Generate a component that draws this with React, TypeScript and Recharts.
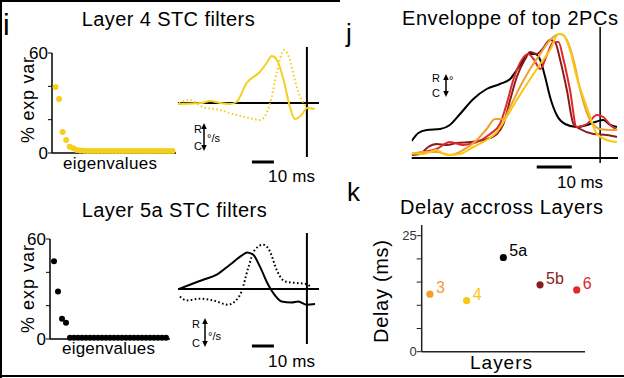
import React from "react";
import { ScatterChart, Scatter, XAxis, YAxis, LineChart, Line, ReferenceLine, Cell } from "recharts";

const FONT = '"Liberation Sans", Arial, Helvetica, sans-serif';

const L4_YELLOW = "#F5CF1E";
const YELLOW = "#F7C812";
const ORANGE = "#F0A033";
const DARK_RED = "#8C1C1C";
const RED = "#E0282C";

// i: % explained variance per eigenvalue
const l4Variance = [
  39.6, 32.4, 12.6, 7.8, 3.8, 2.8, 1.8, 1.5, 1.3, 1.2, 1.2, 1.2, 1.2, 1.2, 1.2, 1.2, 1.2,
  1.2, 1.2, 1.2, 1.2, 1.2, 1.2, 1.2, 1.2, 1.2, 1.2, 1.2, 1.2, 1.2, 1.2, 1.2, 1.2, 1.2,
];
const l5aVariance = [
  46.7, 28.5, 12.1, 9.7, 0.8, 0.8, 0.8, 0.8, 0.8, 0.8, 0.8, 0.8, 0.8, 0.8, 0.8, 0.8, 0.8,
  0.8, 0.8, 0.8, 0.8, 0.8, 0.8, 0.8, 0.8, 0.8, 0.8, 0.8, 0.8,
];

// i: STC filters, [time ms relative to spike, amplitude]
const l4Solid = [
  [-58.6, -0.1], [-47.9, 0.0], [-44.1, 0.2], [-39.5, 0.0], [-35, -0.1], [-32, 0.1],
  [-27.4, 2.0], [-21.4, 3.1], [-18.3, 4.0], [-16, 4.7], [-13.6, 4.3], [-10.6, 2.3],
  [-7.7, -0.4], [-5.5, -1.6], [-2.4, -1.2], [0.1, -0.5], [3.6, -0.6],
];
const l4Dotted = [
  [-58.2, 0.0], [-53.2, 0.3], [-47.3, -0.4], [-39.5, -0.7], [-32, -1.2], [-25.9, -1.5],
  [-21.4, -1.7], [-18.3, -1.0], [-16, 0.6], [-13.8, 3.0], [-10.3, 5.3], [-7.7, 4.3],
  [-5.5, 2.3], [-2.4, 0.3], [0.6, -0.4],
];
const l5aSolid = [
  [-58.2, 0.0], [-53.2, 0.43], [-47.1, 0.93], [-41, 1.43], [-35, 2.43], [-29.7, 3.33],
  [-27.1, 3.66], [-24.4, 3.43], [-21.4, 2.26], [-17.6, 0.43], [-15.3, -0.4], [-11.5, -1.24],
  [-7, -1.34], [-3.9, -1.24], [-0.1, -1.57], [3.7, -1.5],
];
const l5aDotted = [
  [-57.7, -0.74], [-54.7, -1.14], [-48.6, -0.97], [-42.6, -1.14], [-35.8, -1.57],
  [-32.7, -1.24], [-29.7, -0.24], [-26.7, 2.1], [-23.6, 3.93], [-19.9, 4.43], [-16.8, 3.76],
  [-13.8, 1.93], [-10, 0.76], [-4.7, 0.6], [-0.1, 0.5], [1.4, 0.26],
];

// j: envelope of top 2 PCs per layer
const envL5a = [
  [-53.8, 1.7], [-51.9, 2.5], [-49.5, 2.8], [-45.7, 2.9], [-42.9, 3.3], [-40, 4.4],
  [-36.2, 5.9], [-32.4, 6.9], [-28.6, 7.4], [-25.7, 7.9], [-23.8, 8.8], [-21.9, 9.8],
  [-20.5, 10.4], [-18.6, 10.4], [-17.1, 9.8], [-15.7, 8.1], [-14.3, 6.1], [-12.4, 4.3],
  [-10, 3.4], [-6.7, 3.1], [-3.8, 3.3], [-1.4, 3.6], [0.9, 3.8], [2.9, 3.3], [4.8, 3.1],
];
const envL5b = [
  [-53.8, 0.3], [-51.4, 0.4], [-49.1, 1.1], [-46.7, 1.4], [-43.8, 1.3], [-41, 1.5],
  [-37.1, 1.6], [-33.3, 1.8], [-29.5, 2.4], [-27.6, 3.4], [-25.7, 5.8], [-23.8, 8.1],
  [-21.4, 9.9], [-20, 10.6], [-18.1, 10.4], [-16.7, 10.8], [-14.3, 11.8], [-12.9, 11.6],
  [-11.4, 9.8], [-9.5, 6.8], [-7.6, 3.4], [-5.7, 2.9], [-1.9, 2.4], [1.9, 2.3], [4.8, 2.1],
];
const envL6 = [
  [-53.8, 0.4], [-50.5, 0.6], [-46.7, 0.9], [-42.9, 1.6], [-39.1, 1.3], [-35.2, 1.6],
  [-31.4, 2.4], [-28.6, 3.4], [-26.7, 5.4], [-24.8, 7.8], [-22.4, 9.8], [-20.5, 10.4],
  [-19, 9.9], [-17.1, 8.9], [-15.2, 10.3], [-13.3, 11.6], [-11.9, 11.6], [-10.5, 9.9],
  [-8.6, 6.8], [-6.7, 3.1], [-3.8, 3.4], [-0.9, 4.3], [0.9, 4.1], [2.9, 3.3], [4.8, 2.8],
];
const envL3 = [
  [-53.8, 0.4], [-50.5, 0.6], [-46.7, 0.6], [-42.9, 0.3], [-39.1, 0.8], [-35.2, 1.8],
  [-32.4, 2.9], [-30, 3.9], [-27.6, 3.9], [-25.7, 5.1], [-22.9, 7.1], [-20, 8.9],
  [-17.1, 10.4], [-14.3, 11.8], [-11.4, 12.4], [-9.5, 11.8], [-7.6, 9.8], [-5.7, 6.8],
  [-3.3, 4.1], [0, 2.9], [2.9, 2.8], [4.8, 2.8],
];
const envL4 = [
  [-53.8, 0.5], [-50.5, 0.4], [-46.7, 0.8], [-43.8, 0.3], [-40, 0.4], [-36.2, 1.1],
  [-32.4, 1.8], [-29.5, 2.6], [-26.7, 4.1], [-23.8, 5.8], [-20.9, 7.4], [-17.1, 9.4],
  [-14.3, 10.8], [-11.9, 12.4], [-10.5, 12.3], [-8.6, 10.8], [-6.7, 8.1], [-3.8, 5.1],
  [-0.9, 2.4], [1.9, 1.8], [4.8, 1.6],
];

// k: delay across layers
const layerNames = ["3", "4", "5a", "5b", "6"];
const layerDelays = [12.4, 11.0, 20.3, 14.4, 13.3];
const layerColors = [ORANGE, YELLOW, "#000", DARK_RED, RED];

const toPoints = (pairs: number[][]) => pairs.map(([t, a]) => ({ t, a }));

function EigenPanel({ top, axisX, plotW, values, color }: { top: number; axisX: number; plotW: number; values: number[]; color: string }) {
  const data = values.map((v, i) => ({ rank: i + 1, v }));
  return (
    <div style={{ position: "absolute", left: 0, top }}>
      <ScatterChart width={axisX + plotW + 14} height={125} margin={{ top: 13, right: 14, left: axisX - 40, bottom: 0 }}>
        <XAxis type="number" dataKey="rank" domain={[0, values.length + 1]} tick={false} tickLine={false} height={12} axisLine={{ stroke: "#000", strokeWidth: 1.5 }} />
        <YAxis
          type="number"
          dataKey="v"
          domain={[0, 60]}
          ticks={[0, 20, 40, 60]}
          width={40}
          tickSize={4}
          tickMargin={0}
          tickFormatter={(v: number) => (v === 0 || v === 60 ? String(v) : "")}
          tick={{ fontSize: 17, fill: "#000", fontFamily: FONT }}
          axisLine={{ stroke: "#000", strokeWidth: 1.5 }}
          tickLine={{ stroke: "#000" }}
        />
        <Scatter
          data={data}
          isAnimationActive={false}
          shape={(p: any) => <circle cx={p.cx} cy={p.cy} r={3} fill={color} />}
        />
      </ScatterChart>
    </div>
  );
}

function FilterPanel({ top, solid, dotted, color, vTop, vBottom, barY }: any) {
  return (
    <div style={{ position: "absolute", left: 170, top }}>
      <LineChart width={160} height={145} margin={{ top: 7, right: 11, left: 8, bottom: 7 }}>
        <XAxis type="number" dataKey="t" domain={[-58.6, 5.5]} allowDataOverflow hide />
        <YAxis type="number" dataKey="a" domain={[-7.5, 5.6]} allowDataOverflow hide />
        <ReferenceLine segment={[{ x: -58.6, y: 0 }, { x: 5.5, y: 0 }]} stroke="#000" strokeWidth={2} />
        <ReferenceLine segment={[{ x: 0, y: vTop }, { x: 0, y: vBottom }]} stroke="#000" strokeWidth={2} />
        <ReferenceLine segment={[{ x: -25, y: barY }, { x: -15, y: barY }]} stroke="#000" strokeWidth={3} />
        <Line data={toPoints(dotted)} dataKey="a" type="monotone" stroke={color} strokeWidth={2} strokeDasharray="1.6 2.4" dot={false} isAnimationActive={false} />
        <Line data={toPoints(solid)} dataKey="a" type="monotone" stroke={color} strokeWidth={2} dot={false} isAnimationActive={false} />
      </LineChart>
    </div>
  );
}

function EnvelopePanel() {
  const series = [
    { d: envL5a, c: "#000" },
    { d: envL5b, c: DARK_RED },
    { d: envL6, c: RED },
    { d: envL3, c: ORANGE },
    { d: envL4, c: YELLOW },
  ];
  return (
    <div style={{ position: "absolute", left: 404, top: 20 }}>
      <LineChart width={220} height={160} margin={{ top: 7, right: 6, left: 7.7, bottom: 7 }}>
        <XAxis type="number" dataKey="t" domain={[-53.8, 5.1]} allowDataOverflow hide />
        <YAxis type="number" dataKey="a" domain={[-1.5, 13.1]} allowDataOverflow hide />
        <ReferenceLine segment={[{ x: -53.8, y: 0 }, { x: 5.1, y: 0 }]} stroke="#000" strokeWidth={2} />
        <ReferenceLine segment={[{ x: 0, y: 13.1 }, { x: 0, y: -0.5 }]} stroke="#000" strokeWidth={1.5} />
        <ReferenceLine segment={[{ x: -18.1, y: -0.9 }, { x: -8.1, y: -0.9 }]} stroke="#000" strokeWidth={3} />
        {series.map((s, i) => (
          <Line key={i} data={toPoints(s.d)} dataKey="a" type="monotone" stroke={s.c} strokeWidth={2} dot={false} isAnimationActive={false} />
        ))}
      </LineChart>
    </div>
  );
}

function DelayPanel() {
  const data = layerNames.map((name, i) => ({ pos: i + 1, delay: layerDelays[i], name }));
  return (
    <div style={{ position: "absolute", left: 360, top: 215 }}>
      <ScatterChart width={235} height={150} margin={{ top: 10, right: 10, left: 21.7, bottom: 3.3 }}>
        <XAxis type="number" dataKey="pos" domain={[0.775, 5.225]} tick={false} tickLine={false} height={10} axisLine={{ stroke: "#222", strokeWidth: 1.5 }} />
        <YAxis
          type="number"
          dataKey="delay"
          domain={[0, 27.3]}
          ticks={[0, 5, 10, 15, 20, 25]}
          width={40}
          tickSize={5}
          tickMargin={0}
          tickFormatter={(v: number) => (v === 0 || v === 25 ? String(v) : "")}
          tick={{ fontSize: 13, fill: "#333", fontFamily: FONT }}
          axisLine={{ stroke: "#222", strokeWidth: 1.5 }}
          tickLine={{ stroke: "#222" }}
        />
        <Scatter
          data={data}
          isAnimationActive={false}
          shape={(p: any) => {
            const c = layerColors[p.payload.pos - 1];
            return (
              <g>
                <circle cx={p.cx} cy={p.cy} r={3.6} fill={c} />
                <text x={p.cx + 6} y={p.cy - 1} fontSize={16} fill={c} fontFamily={FONT}>
                  {p.payload.name}
                </text>
              </g>
            );
          }}
        >
          {data.map((d, i) => (
            <Cell key={i} fill={layerColors[i]} />
          ))}
        </Scatter>
      </ScatterChart>
    </div>
  );
}

function RateArrow({ x, y1, y2, rx, ry, cy, ux, uy, unit, size }: any) {
  return (
    <g>
      <line x1={x} y1={y1 + 4} x2={x} y2={y2 - 4} stroke="#000" strokeWidth={1.5} />
      <polygon points={`${x},${y1} ${x - 2.8},${y1 + 6} ${x + 2.8},${y1 + 6}`} fill="#000" />
      <polygon points={`${x},${y2} ${x - 2.8},${y2 - 6} ${x + 2.8},${y2 - 6}`} fill="#000" />
      <text x={rx} y={ry} fontSize={size}>R</text>
      <text x={rx} y={cy} fontSize={size}>C</text>
      <text x={ux} y={uy} fontSize={size}>{unit}</text>
    </g>
  );
}

export default function App() {
  return (
    <div style={{ position: "absolute", left: 0, top: 0, width: 624, height: 378, background: "#fff", overflow: "hidden", fontFamily: FONT }}>
      <EigenPanel top={40} axisX={52} plotW={124} values={l4Variance} color={L4_YELLOW} />
      <EigenPanel top={226} axisX={50} plotW={120} values={l5aVariance} color="#000" />
      <FilterPanel top={40} solid={l4Solid} dotted={l4Dotted} color={L4_YELLOW} vTop={5.6} vBottom={-5.4} barY={-5.9} />
      <FilterPanel top={226} solid={l5aSolid} dotted={l5aDotted} color="#000" vTop={5.6} vBottom={-5.5} barY={-5.7} />
      <EnvelopePanel />
      <DelayPanel />
      <svg width={624} height={378} style={{ position: "absolute", left: 0, top: 0, pointerEvents: "none" }} fontFamily={FONT}>
        <line x1={1} y1={0} x2={1} y2={378} stroke="#000" strokeWidth={2} />
        <line x1={0} y1={1} x2={340} y2={1} stroke="#000" strokeWidth={2} />
        <line x1={0} y1={376} x2={624} y2={376} stroke="#000" strokeWidth={2} />

        <text x={3} y={35} fontSize={30}>i</text>
        <text x={346} y={42} fontSize={26}>j</text>
        <text x={347} y={201} fontSize={26}>k</text>

        <text x={81.7} y={26} fontSize={20} textLength={173} lengthAdjust="spacing">Layer 4 STC filters</text>
        <text x={81.7} y={216.7} fontSize={20} textLength={185} lengthAdjust="spacing">Layer 5a STC filters</text>
        <text x={402} y={25} fontSize={20} textLength={216} lengthAdjust="spacing">Enveloppe of top 2PCs</text>
        <text x={400} y={214.3} fontSize={20} textLength={203} lengthAdjust="spacing">Delay accross Layers</text>

        <text transform="translate(34,143) rotate(-90)" fontSize={18} textLength={86} lengthAdjust="spacing">% exp var</text>
        <text transform="translate(34,333) rotate(-90)" fontSize={18} textLength={88} lengthAdjust="spacing">% exp var</text>
        <text x={63} y={169} fontSize={17} textLength={94} lengthAdjust="spacing">eigenvalues</text>
        <text x={62} y={354} fontSize={17} textLength={93} lengthAdjust="spacing">eigenvalues</text>

        <text x={268} y={181.5} fontSize={17} textLength={47} lengthAdjust="spacing">10 ms</text>
        <text x={268} y={367} fontSize={17} textLength={47} lengthAdjust="spacing">10 ms</text>
        <text x={557} y={187.5} fontSize={17} textLength={46} lengthAdjust="spacing">10 ms</text>

        <RateArrow x={204} y1={123} y2={151} rx={194} ry={133} cy={150} ux={207} uy={141.5} unit="°/s" size={11} />
        <RateArrow x={205} y1={318} y2={347} rx={192} ry={328} cy={347} ux={208} uy={340} unit="°/s" size={11} />
        <RateArrow x={446} y1={74} y2={97} rx={432} ry={82} cy={97} ux={449} uy={84} unit="°" size={11} />

        <text transform="translate(388,343) rotate(-90)" fontSize={20} textLength={103} lengthAdjust="spacing">Delay (ms)</text>
        <text x={470} y={369} fontSize={19} textLength={62} lengthAdjust="spacing">Layers</text>
      </svg>
    </div>
  );
}
